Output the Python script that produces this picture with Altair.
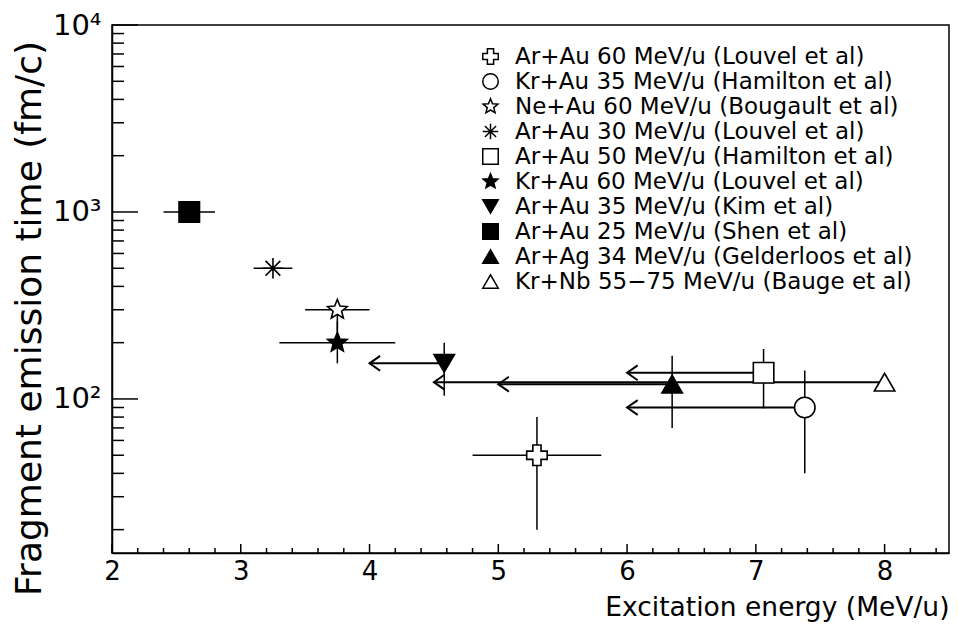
import altair as alt
import pandas as pd

labels = [
    "Ar+Au 60 MeV/u (Louvel et al)",
    "Kr+Au 35 MeV/u (Hamilton et al)",
    "Ne+Au 60 MeV/u (Bougault et al)",
    "Ar+Au 30 MeV/u (Louvel et al)",
    "Ar+Au 50 MeV/u (Hamilton et al)",
    "Kr+Au 60 MeV/u (Louvel et al)",
    "Ar+Au 35 MeV/u (Kim et al)",
    "Ar+Au 25 MeV/u (Shen et al)",
    "Ar+Ag 34 MeV/u (Gelderloos et al)",
    "Kr+Nb 55\u221275 MeV/u (Bauge et al)",
]
energy = [5.3, 7.38, 3.75, 3.25, 7.06, 3.75, 4.58, 2.6, 6.35, 8.0]
time = [50, 90, 300, 500, 138, 200, 155, 1000, 120, 123]
x_lo = [4.8, None, 3.5, 3.1, None, 3.3, None, 2.4, None, None]
x_hi = [5.8, None, 4.0, 3.4, None, 4.2, None, 2.8, None, None]
y_lo = [20, 40, 230, None, 89, 155, 104, None, 70, None]
y_hi = [80, 142, 330, None, 185, 260, 200, None, 170, None]
arrow_to = [None, 6.0, None, None, 6.0, None, 4.0, None, 5.0, 4.5]

x_major = [2, 3, 4, 5, 6, 7, 8]
x_minor = [round(2 + 0.2 * i, 1) for i in range(33) if i % 5 != 0]
y_major = [100, 1000, 10000]
y_minor = [m * d for d in (10, 100, 1000) for m in range(2, 10) if m * d >= 20]

STAR = "M0,-1L0.26,-0.36L0.951,-0.309L0.42,0.14L0.588,0.809L0,0.45L-0.588,0.809L-0.42,0.14L-0.951,-0.309L-0.26,-0.36Z"
AST = "M-1,0L1,0M0,-1L0,1M-0.72,-0.72L0.72,0.72M-0.72,0.72L0.72,-0.72"
ARROW = "M1,-0.7L0,0L1,0.7"

shapes = ["cross", "circle", STAR, AST, "square", STAR,
          "triangle-down", "square", "triangle-up", "triangle-up"]
fills = ["white", "white", "white", "white", "white", "black",
         "black", "black", "black", "white"]
strokes = ["black"] * len(labels)

df = pd.DataFrame({
    "label": labels, "energy": energy, "time": time,
    "x_lo": x_lo, "x_hi": x_hi, "y_lo": y_lo, "y_hi": y_hi,
    "arrow_to": arrow_to,
})

FONT = "DejaVu Sans"
W, H = 837, 528
xscale = alt.Scale(domain=[2, 8.5], nice=False, zero=False)
yscale = alt.Scale(type="log", domain=[15, 10000], nice=False)

xaxis = alt.Axis(
    values=x_major, ticks=False, grid=False, domainColor="black", domainWidth=1.5,
    labelFont=FONT, labelFontSize=26, labelColor="black", labelPadding=5,
    labelFlush=False, labelOverlap=False,
    title="Excitation energy (MeV/u)", titleFont=FONT, titleFontSize=26.5,
    titleFontWeight="normal", titleColor="black", titleX=W, titleY=62,
    titleAlign="right", titleAnchor="end", titleBaseline="alphabetic",
)
yaxis = alt.Axis(
    values=y_major, ticks=False, grid=False, domainColor="black", domainWidth=1.5,
    labelExpr="datum.value == 10000 ? '10\u2074' : datum.value == 1000 ? '10\u00b3' : '10\u00b2'",
    labelFont=FONT, labelFontSize=29, labelColor="black", labelPadding=11,
    labelFlush=False, labelOverlap=False,
    title="Fragment emission time (fm/c)", titleFont=FONT, titleFontSize=36,
    titleFontWeight="normal", titleColor="black", titleAngle=270,
    titleX=-72, titleY=293, titleAlign="center", titleBaseline="alphabetic",
)

leg = alt.Legend(
    orient="none", legendX=367, legendY=20, title=None,
    labelFont=FONT, labelFontSize=23, labelColor="black", labelLimit=700,
    symbolSize=240, symbolStrokeColor="black", symbolStrokeWidth=1.5,
    rowPadding=1, labelOffset=13, padding=0,
)


def X(field):
    return alt.X(field, scale=xscale, axis=xaxis)


def Y(field):
    return alt.Y(field, scale=yscale, axis=yaxis)


base = alt.Chart(df)

err_x = base.transform_filter("isValid(datum.x_lo)").mark_rule(
    color="black", strokeWidth=1.5).encode(
    x=X("x_lo:Q"), x2="x_hi:Q", y=Y("time:Q"))

err_y = base.transform_filter("isValid(datum.y_lo)").mark_rule(
    color="black", strokeWidth=1.5).encode(
    x=X("energy:Q"), y=Y("y_lo:Q"), y2="y_hi:Q")

arrow_line = base.transform_filter("isValid(datum.arrow_to)").mark_rule(
    color="black", strokeWidth=2).encode(
    x=X("arrow_to:Q"), x2="energy:Q", y=Y("time:Q"))

arrow_head = base.transform_filter("isValid(datum.arrow_to)").mark_point(
    shape=ARROW, size=450, filled=False, stroke="black", strokeWidth=2,
    opacity=1).encode(x=X("arrow_to:Q"), y=Y("time:Q"))

points = base.mark_point(filled=True, size=420, strokeWidth=1.6, opacity=1).encode(
    x=X("energy:Q"),
    y=Y("time:Q"),
    shape=alt.Shape("label:N", scale=alt.Scale(domain=labels, range=shapes), legend=leg),
    fill=alt.Fill("label:N", scale=alt.Scale(domain=labels, range=fills), legend=leg),
    stroke=alt.Stroke("label:N", scale=alt.Scale(domain=labels, range=strokes), legend=leg),
)

ytm = alt.Chart(pd.DataFrame({"t": y_major})).mark_rule(color="black", strokeWidth=1.5).encode(
    y=Y("t:Q"), x=alt.value(0), x2=alt.value(26))
ytn = alt.Chart(pd.DataFrame({"t": y_minor})).mark_rule(color="black", strokeWidth=1.5).encode(
    y=Y("t:Q"), x=alt.value(0), x2=alt.value(12))
xtm = alt.Chart(pd.DataFrame({"t": x_major})).mark_rule(color="black", strokeWidth=1.5).encode(
    x=X("t:Q"), y=alt.value(H), y2=alt.value(H - 9))
xtn = alt.Chart(pd.DataFrame({"t": x_minor})).mark_rule(color="black", strokeWidth=1.5).encode(
    x=X("t:Q"), y=alt.value(H), y2=alt.value(H - 5))

chart = alt.layer(
    err_x, err_y, arrow_line, arrow_head, ytm, ytn, xtm, xtn, points
).properties(
    width=W, height=H,
    autosize=alt.AutoSizeParams(type="none"),
    padding={"left": 104, "top": 17, "right": 1, "bottom": 73},
    background="white",
).configure_view(stroke="black", strokeWidth=1.5)

chart.save("out.html", embed_options={"renderer": "svg", "actions": False})
